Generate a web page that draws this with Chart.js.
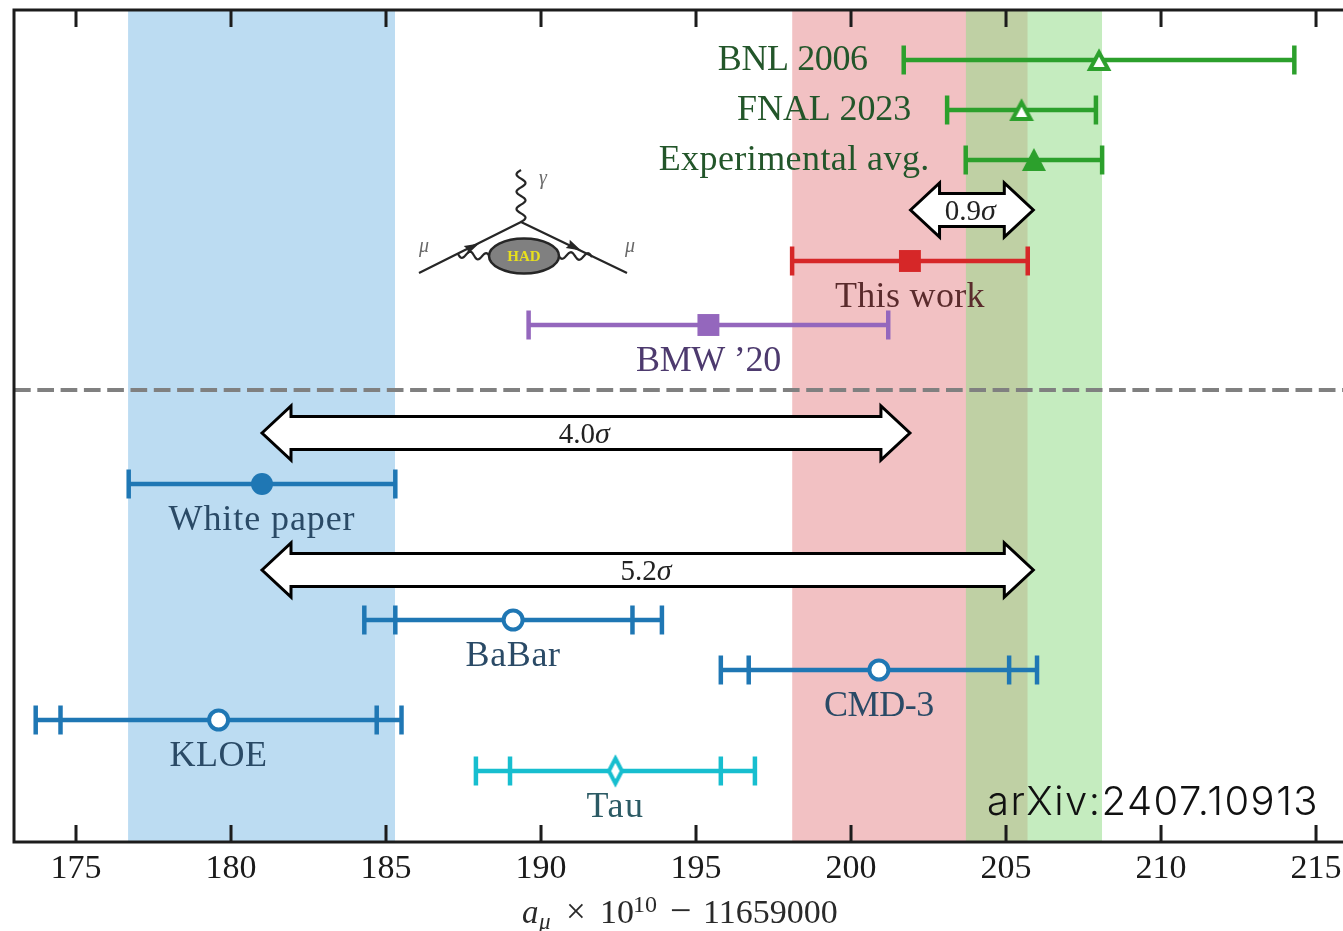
<!DOCTYPE html>
<html>
<head>
<meta charset="utf-8">
<title>a_mu comparison</title>
<script src="https://cdn.jsdelivr.net/npm/chart.js@4/dist/chart.umd.min.js"></script>
<style>
    html, body { margin: 0; padding: 0; background: #fff; }
    canvas { display: block; }
</style>
</head>
<body>
<canvas id="chart" width="1343" height="931"></canvas>
<script>
// ─── Data ────────────────────────────────────────────────────────────────
const xTicks = [175, 180, 185, 190, 195, 200, 205, 210, 215];
const xMin = 173;
const xMax = 215.87;
const yMax = 16.64;

const names = ['BNL 2006', 'FNAL 2023', 'Experimental avg.', 'This work', "BMW \u201920", 'White paper', 'BaBar', 'CMD-3', 'KLOE', 'Tau'];
const rows = [15.64, 14.64, 13.64, 11.62, 10.34, 7.16, 4.44, 3.44, 2.44, 1.42];
const centers = [208.0, 205.5, 205.9, 201.9, 195.4, 181.0, 189.1, 200.9, 179.6, 192.4];
const lows = [201.7, 203.1, 203.7, 198.1, 189.6, 176.7, 184.3, 195.8, 173.7, 187.9];
const highs = [214.3, 207.9, 208.1, 205.7, 201.2, 185.3, 193.9, 206.0, 185.5, 196.9];
const innerLows = [null, null, null, null, null, null, 185.3, 196.7, 174.5, 189.0];
const innerHighs = [null, null, null, null, null, null, 192.95, 205.1, 184.7, 195.8];

const lineColors = ['#2ca02c', '#2ca02c', '#2ca02c', '#d62728', '#9467bd', '#1f77b4', '#1f77b4', '#1f77b4', '#1f77b4', '#17becf'];
const textColors = ['#23562a', '#23562a', '#23562a', '#5a2b2c', '#4d3a6e', '#2a4a66', '#2a4a66', '#2a4a66', '#2a4a66', '#2b5a64'];
const markers = ['openTri', 'openTri', 'tri', 'square', 'square', 'dot', 'openDot', 'openDot', 'openDot', 'diamond'];
// label widths in the reference, Liberation is narrower than the paper's font
const labelWidths = [150, 174, 271, 150, 145, 187, 95, 110, 98, 58];

const blueBand = [176.68, 185.29];
const redBand = [198.1, 205.7];
const greenBand = [203.7, 208.1];
const dashedRow = 9.04;

const arrowLabels = ['0.9', '4.0', '5.2'];
const arrowRows = [12.64, 8.18, 5.44];
const arrowFrom = [201.92, 181.0, 181.0];
const arrowTo = [205.88, 201.9, 205.88];

// ─── Small helpers ───────────────────────────────────────────────────────
const SERIF = '"Liberation Serif", serif';

function thinDiamond(color) {
    const c = document.createElement('canvas');
    c.width = 20;
    c.height = 34;
    const g = c.getContext('2d');
    g.beginPath();
    g.moveTo(10, 4.5);
    g.lineTo(16.5, 17);
    g.lineTo(10, 29.5);
    g.lineTo(3.5, 17);
    g.closePath();
    g.fillStyle = '#fff';
    g.fill();
    g.lineWidth = 4;
    g.strokeStyle = color;
    g.stroke();
    return c;
}

function triangleMark(color, filled) {
    const c = document.createElement('canvas');
    c.width = 26;
    c.height = 26;
    const g = c.getContext('2d');
    g.beginPath();
    if (filled) {
        g.moveTo(13, 1);
        g.lineTo(25, 24);
        g.lineTo(1, 24);
    } else {
        g.moveTo(13, 5.5);
        g.lineTo(22, 22);
        g.lineTo(4, 22);
    }
    g.closePath();
    g.fillStyle = filled ? color : '#fff';
    g.fill();
    if (!filled) {
        g.lineWidth = 4;
        g.strokeStyle = color;
        g.stroke();
    }
    return c;
}

function bandDataset(range, color, order) {
    return {
        data: [{ x: range[0], y: 0 }, { x: range[0], y: yMax }, { x: range[1], y: yMax }, { x: range[1], y: 0 }],
        showLine: true,
        borderWidth: 0,
        pointRadius: 0,
        backgroundColor: color,
        fill: 'origin',
        tension: 0,
        order
    };
}

function markerStyle(kind, color) {
    switch (kind) {
        case 'openTri': return { pointStyle: triangleMark(color, false), pointRadius: 13 };
        case 'tri': return { pointStyle: triangleMark(color, true), pointRadius: 13 };
        case 'square': return { pointStyle: 'rect', pointRadius: 15.5, pointBackgroundColor: color, pointBorderColor: color, pointBorderWidth: 0 };
        case 'dot': return { pointStyle: 'circle', pointRadius: 11, pointBackgroundColor: color, pointBorderColor: color, pointBorderWidth: 0 };
        case 'openDot': return { pointStyle: 'circle', pointRadius: 9.5, pointBackgroundColor: '#fff', pointBorderColor: color, pointBorderWidth: 4 };
        default: return { pointStyle: thinDiamond(color), pointRadius: 12 };
    }
}

function buildDatasets() {
    const sets = [
        bandDataset(blueBand, '#bcdcf2', 30),
        bandDataset(redBand, '#f2c1c3', 29),
        bandDataset(greenBand, 'rgba(150,220,139,0.55)', 28),
        {
            data: [{ x: xMin, y: dashedRow }, { x: xMax, y: dashedRow }],
            showLine: true,
            borderColor: '#808080',
            borderWidth: 4,
            borderDash: [16.7, 6.6],
            pointRadius: 0,
            order: 20
        }
    ];
    names.forEach((name, i) => {
        const y = rows[i];
        const color = lineColors[i];
        sets.push({
            data: [{ x: lows[i], y }, { x: highs[i], y }],
            showLine: true,
            borderColor: color,
            borderWidth: 4.5,
            pointRadius: 0,
            order: 10
        });
        const caps = [lows[i], highs[i], innerLows[i], innerHighs[i]].filter(v => v !== null);
        sets.push({
            data: caps.map(x => ({ x, y })),
            showLine: false,
            pointStyle: 'line',
            rotation: 90,
            pointRadius: 14.5,
            pointBorderColor: color,
            pointBorderWidth: 4.5,
            order: 9
        });
        sets.push({
            data: [{ x: centers[i], y }],
            showLine: false,
            order: 8,
            ...markerStyle(markers[i], color)
        });
    });
    return sets;
}

// ─── Drawing on top of the datasets ──────────────────────────────────────
function drawFrame(chart) {
    const { ctx, chartArea, scales } = chart;
    ctx.save();
    ctx.strokeStyle = '#1c1c1c';
    ctx.lineWidth = 3;
    xTicks.forEach(v => {
        const px = scales.x.getPixelForValue(v);
        ctx.beginPath();
        ctx.moveTo(px, chartArea.bottom);
        ctx.lineTo(px, chartArea.bottom - 17);
        ctx.moveTo(px, chartArea.top);
        ctx.lineTo(px, chartArea.top + 17);
        ctx.stroke();
    });
    ctx.beginPath();
    ctx.moveTo(chartArea.right + 2, chartArea.top);
    ctx.lineTo(chartArea.left, chartArea.top);
    ctx.lineTo(chartArea.left, chartArea.bottom);
    ctx.lineTo(chartArea.right + 2, chartArea.bottom);
    ctx.stroke();
    ctx.restore();
}

function drawArrow(ctx, x0, x1, y) {
    const body = 16.5;
    const head = 27;
    const len = 29;
    ctx.beginPath();
    ctx.moveTo(x0, y);
    ctx.lineTo(x0 + len, y - head);
    ctx.lineTo(x0 + len, y - body);
    ctx.lineTo(x1 - len, y - body);
    ctx.lineTo(x1 - len, y - head);
    ctx.lineTo(x1, y);
    ctx.lineTo(x1 - len, y + head);
    ctx.lineTo(x1 - len, y + body);
    ctx.lineTo(x0 + len, y + body);
    ctx.lineTo(x0 + len, y + head);
    ctx.closePath();
    ctx.fillStyle = '#fff';
    ctx.fill();
    ctx.lineWidth = 3;
    ctx.lineJoin = 'miter';
    ctx.strokeStyle = '#000';
    ctx.stroke();
}

function drawArrows(chart) {
    const { ctx, scales } = chart;
    ctx.save();
    arrowLabels.forEach((label, i) => {
        const x0 = scales.x.getPixelForValue(arrowFrom[i]);
        const x1 = scales.x.getPixelForValue(arrowTo[i]);
        const y = scales.y.getPixelForValue(arrowRows[i]);
        drawArrow(ctx, x0, x1, y);
        const mid = (x0 + x1) / 2;
        ctx.fillStyle = '#222';
        ctx.textBaseline = 'alphabetic';
        ctx.textAlign = 'right';
        ctx.font = '29px ' + SERIF;
        ctx.fillText(label, mid + 9, y + 10);
        ctx.textAlign = 'left';
        ctx.font = 'italic 30px ' + SERIF;
        ctx.fillText('\u03c3', mid + 9, y + 10);
    });
    ctx.restore();
}

function fitSpacing(ctx, text, width) {
    ctx.letterSpacing = '0px';
    const w = ctx.measureText(text).width;
    ctx.letterSpacing = ((width - w) / text.length).toFixed(2) + 'px';
}

function drawLabels(chart) {
    const { ctx, scales } = chart;
    ctx.save();
    ctx.font = '36px ' + SERIF;
    ctx.textBaseline = 'alphabetic';
    names.forEach((name, i) => {
        ctx.fillStyle = textColors[i];
        fitSpacing(ctx, name, labelWidths[i]);
        const y = scales.y.getPixelForValue(rows[i]);
        if (i < 3) {
            ctx.textAlign = 'right';
            ctx.fillText(name, scales.x.getPixelForValue(lows[i]) - 36, y + 10);
        } else {
            ctx.textAlign = 'center';
            ctx.fillText(name, scales.x.getPixelForValue(centers[i]), y + 46);
        }
    });
    ctx.restore();
}

// inset diagram, it is a pasted picture in the paper so it sits at fixed page positions
function wavy(ctx, x0, y0, x1, y1, waves, amp) {
    const steps = waves * 16;
    const dx = x1 - x0;
    const dy = y1 - y0;
    const n = Math.hypot(dx, dy);
    ctx.beginPath();
    for (let s = 0; s <= steps; s++) {
        const t = s / steps;
        const w = Math.sin(t * waves * 2 * Math.PI) * amp;
        const px = x0 + dx * t - dy / n * w;
        const py = y0 + dy * t + dx / n * w;
        if (s === 0) ctx.moveTo(px, py); else ctx.lineTo(px, py);
    }
    ctx.stroke();
}

function drawDiagram(ctx) {
    ctx.save();
    ctx.strokeStyle = '#262626';
    ctx.fillStyle = '#262626';
    ctx.lineWidth = 2.2;
    ctx.beginPath();
    ctx.moveTo(419, 273);
    ctx.lineTo(521, 222);
    ctx.lineTo(627, 273);
    ctx.stroke();
    wavy(ctx, 521, 222, 521, 170, 3, 4.5);
    wavy(ctx, 458, 254, 490, 257, 2, 3.5);
    wavy(ctx, 558, 255, 592, 257, 2, 3.5);
    [[472, 247, 0.46], [574, 247, 0.46]].forEach(([x, y, a], i) => {
        ctx.save();
        ctx.translate(x, y);
        ctx.rotate(i === 0 ? -a : a);
        ctx.beginPath();
        ctx.moveTo(8, 0);
        ctx.lineTo(-7, -4.5);
        ctx.lineTo(-5, 0);
        ctx.lineTo(-7, 4.5);
        ctx.closePath();
        ctx.fill();
        ctx.restore();
    });
    ctx.lineWidth = 2.5;
    ctx.beginPath();
    ctx.ellipse(524, 256, 35, 17.5, 0, 0, 2 * Math.PI);
    ctx.fillStyle = '#808080';
    ctx.fill();
    ctx.stroke();
    ctx.fillStyle = '#e8e01c';
    ctx.font = 'bold 15px ' + SERIF;
    ctx.textAlign = 'center';
    ctx.fillText('HAD', 524, 261);
    ctx.fillStyle = '#6a6a6a';
    ctx.font = 'italic 20px ' + SERIF;
    ctx.fillText('\u03bc', 424, 252);
    ctx.fillText('\u03bc', 630, 252);
    ctx.fillText('\u03b3', 543, 184);
    ctx.restore();
}

function drawAxisTitle(ctx) {
    ctx.save();
    ctx.fillStyle = '#2a2a2a';
    ctx.textAlign = 'left';
    ctx.textBaseline = 'alphabetic';
    const base = 923;
    ctx.font = 'italic 33px ' + SERIF;
    ctx.fillText('a', 522, base);
    ctx.font = 'italic 23px ' + SERIF;
    ctx.fillText('\u03bc', 539, base + 6);
    ctx.font = '35px ' + SERIF;
    ctx.fillText('\u00d7', 566, base);
    ctx.font = '34px ' + SERIF;
    ctx.fillText('10', 600, base);
    ctx.font = '24px ' + SERIF;
    ctx.fillText('10', 633, base - 11);
    ctx.font = '38px ' + SERIF;
    ctx.fillText('\u2212', 670, base);
    ctx.font = '34px ' + SERIF;
    ctx.fillText('11659000', 703, base);
    ctx.restore();
}

const overlayPlugin = {
    id: 'overlay',
    afterDraw(chart) {
        const { ctx } = chart;
        drawFrame(chart);
        drawDiagram(ctx);
        drawArrows(chart);
        drawLabels(chart);
        drawAxisTitle(ctx);
        ctx.save();
        ctx.fillStyle = '#111';
        ctx.font = '300 40px Inter, sans-serif';
        ctx.textAlign = 'left';
        fitSpacing(ctx, 'arXiv:2407.10913', 332);
        ctx.fillText('arXiv:2407.10913', 987, 815);
        ctx.restore();
    }
};

// ─── Chart ───────────────────────────────────────────────────────────────
new Chart(document.getElementById('chart').getContext('2d'), {
    type: 'scatter',
    data: { datasets: buildDatasets() },
    options: {
        responsive: false,
        animation: false,
        layout: { autoPadding: false, padding: { left: 14, top: 10, right: 0, bottom: 0 } },
        plugins: { legend: { display: false }, tooltip: { enabled: false } },
        scales: {
            x: {
                type: 'linear',
                min: xMin,
                max: xMax,
                grid: { display: false, drawTicks: false },
                border: { display: false },
                afterBuildTicks: scale => { scale.ticks = xTicks.map(value => ({ value })); },
                afterFit: scale => {
                    scale.height = 89;
                    scale.paddingLeft = 0;
                    scale.paddingRight = 0;
                },
                ticks: {
                    autoSkip: false,
                    maxRotation: 0,
                    padding: 7,
                    color: '#1a1a1a',
                    font: { family: SERIF, size: 34 },
                    callback: v => String(v)
                }
            },
            y: { type: 'linear', min: 0, max: yMax, display: false }
        }
    },
    plugins: [overlayPlugin]
});
</script>
</body>
</html>
